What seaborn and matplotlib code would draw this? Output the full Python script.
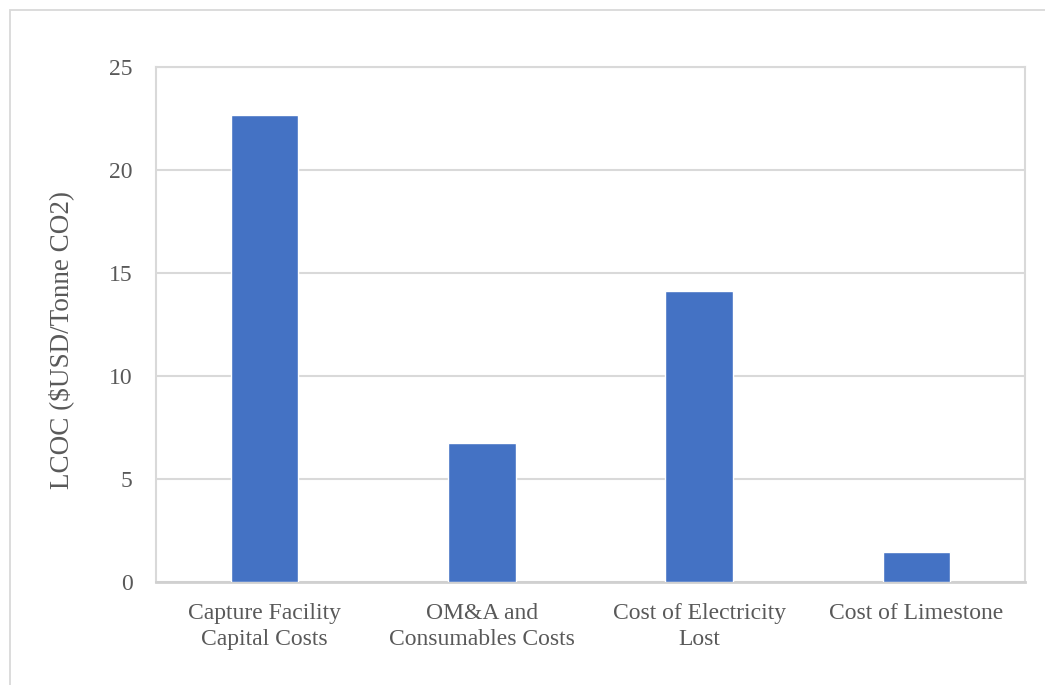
import matplotlib
matplotlib.use("Agg")
import matplotlib.pyplot as plt
import seaborn as sns
import pandas as pd

categories = ["Capture Facility\nCapital Costs", "OM&A and\nConsumables Costs",
              "Cost of Electricity\nLost", "Cost of Limestone"]
lcoc = [22.65, 6.75, 14.13, 1.48]
y_ticks = [0, 5, 10, 15, 20, 25]

df = pd.DataFrame({"category": categories, "lcoc": lcoc})

sns.set_theme(style="white")
plt.rcParams["font.family"] = ["Liberation Serif", "DejaVu Serif"]

text_color = "#595959"
grid_color = "#D9D9D9"

fig = plt.figure(figsize=(10.45, 6.85), dpi=100)
ax = fig.add_axes([156 / 1045, 103 / 685, 869 / 1045, 515 / 685])

# outer chart-area border
fig.patches.append(plt.Rectangle((10 / 1045, -0.1), 1.2, (685 - 10) / 685 + 0.1,
                                 transform=fig.transFigure, fill=False,
                                 edgecolor=grid_color, linewidth=1.3, zorder=0))

sns.barplot(data=df, x="category", y="lcoc", color="#4472C4", width=0.31,
            saturation=1, ax=ax, zorder=3)

ax.set_ylim(0, 25)
ax.set_xlim(-0.5, 3.5)
ax.set_yticks(y_ticks)
ax.set_yticklabels([str(t) for t in y_ticks])
ax.yaxis.grid(True, color=grid_color, linewidth=1.5, zorder=0)
ax.set_axisbelow(True)

for side in ["top", "left", "right"]:
    ax.spines[side].set_visible(True)
    ax.spines[side].set_color(grid_color)
    ax.spines[side].set_linewidth(1.5)
ax.spines["bottom"].set_color("#D0D0D0")
ax.spines["bottom"].set_linewidth(2)

ax.tick_params(axis="y", length=0, pad=17, labelsize=17, labelcolor=text_color)
ax.tick_params(axis="x", length=0, pad=15, labelsize=17, labelcolor=text_color)
for lbl in ax.get_xticklabels():
    lbl.set_linespacing(1.32)

ax.set_xlabel("")
ax.set_ylabel("LCOC ($USD/Tonne CO2)", fontsize=19.5, color=text_color)
ax.yaxis.set_label_coords(-0.094, 0.47)

fig.savefig("out.png", dpi=100)
